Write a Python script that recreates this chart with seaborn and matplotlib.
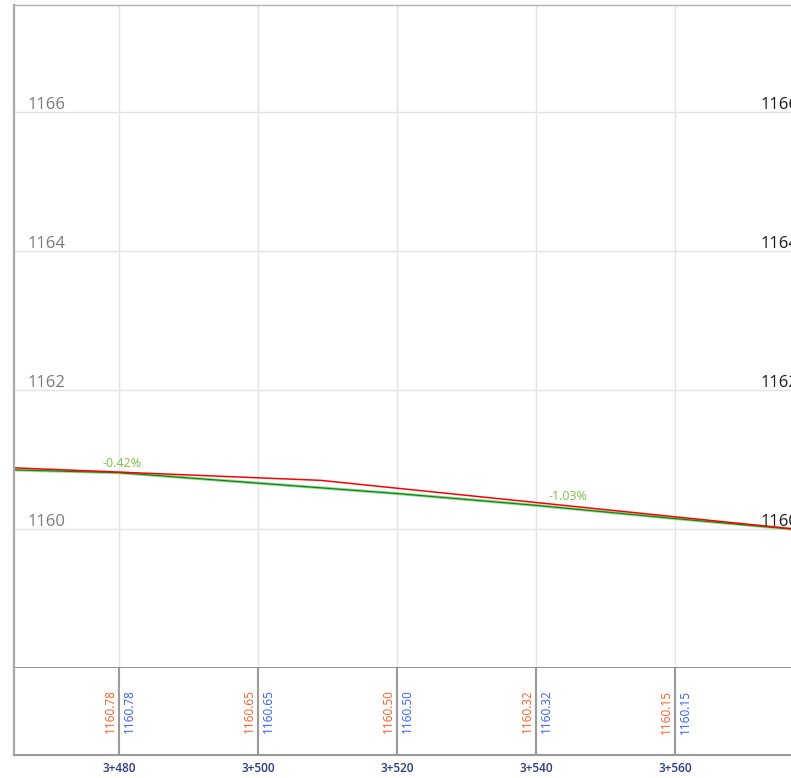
import numpy as np
import pandas as pd
import matplotlib
matplotlib.use("Agg")
import matplotlib.pyplot as plt
import seaborn as sns

# stations (m) and the elevations printed in the band
stations = [3480, 3500, 3520, 3540, 3560]
station_labels = ["3+480", "3+500", "3+520", "3+540", "3+560"]
red_band_values = [1160.78, 1160.65, 1160.50, 1160.32, 1160.15]
blue_band_values = [1160.78, 1160.65, 1160.50, 1160.32, 1160.15]

# grade line (red)
grade_st = [3464.9, 3509.0, 3580.0]
grade_el = [1160.88, 1160.70, 1159.97]

# ground line (green)
ground_st = [3464.9, 3480, 3500, 3520, 3540, 3560, 3580]
ground_el = [1160.85, 1160.81, 1160.66, 1160.51, 1160.34, 1160.15, 1159.97]

# grade labels
grade_text = ["-0.42%", "-1.03%"]
grade_text_st = [3480.5, 3544.6]

elev_ticks = [1160, 1162, 1164, 1166]

sns.set_style("white")
plt.rcParams['font.family'] = ['Open Sans', 'DejaVu Sans']

grade_df = pd.DataFrame({'station': grade_st, 'elev': grade_el})
ground_df = pd.DataFrame({'station': ground_st, 'elev': ground_el})

fig = plt.figure(figsize=(7.91, 7.78), dpi=100)
ax = fig.add_axes([14/791, 110/778, 1 - 14/791, 663/778])
band = fig.add_axes([14/791, 23/778, 1 - 14/791, 87/778])

x0 = 3480 - 105/6.95
x1 = 3480 + 672/6.95

# soft halo under the ground line, then the lines
sns.lineplot(data=ground_df, x='station', y='elev', ax=ax, color='#9fd89f', linewidth=2.2)
sns.lineplot(data=ground_df, x='station', y='elev', ax=ax, color='#0a8a0a', linewidth=0.9)
sns.lineplot(data=grade_df, x='station', y='elev', ax=ax, color='#ff0000', linewidth=1.1)

ax.set_xlim(x0, x1)
ax.set_ylim(1158.0, 1160 + 524/69.5)
ax.set_xticks(stations)
ax.set_yticks(elev_ticks)
ax.tick_params(length=0, labelbottom=False, labelleft=False)
ax.grid(True, color='#e4e4e4', linewidth=1.0)
ax.set_xlabel('')
ax.set_ylabel('')
ax.spines['right'].set_visible(False)
ax.spines['left'].set_color('#aaaaaa')
ax.spines['left'].set_linewidth(1.6)
ax.spines['top'].set_color('#b0b0b0')
ax.spines['top'].set_linewidth(1.0)
ax.spines['bottom'].set_color('#808080')
ax.spines['bottom'].set_linewidth(1.2)

# elevation labels inside the plot (left gray, right black, cut by the edge)
for v in elev_ticks:
    ax.annotate(str(v), xy=(0, v), xycoords=('axes fraction', 'data'),
                xytext=(10, 2.5), textcoords='offset points',
                ha='left', va='baseline', fontsize=12, color='#7a7a7a')
    ax.annotate(str(v), xy=(3572.3, v), xycoords='data',
                xytext=(0, 2.5), textcoords='offset points',
                ha='left', va='baseline', fontsize=12, color='#1a1a1a',
                annotation_clip=False)

# grade labels
for t, st in zip(grade_text, grade_text_st):
    yv = np.interp(st, grade_st, grade_el)
    ax.annotate(t, xy=(st, yv), xytext=(0, 6.5), textcoords='offset points',
                ha='center', va='center', fontsize=9, color='#7cc142')

# band with elevations
band.set_xlim(x0, x1)
band.set_ylim(0, 1)
band.set_yticks([])
band.set_xticks(stations)
band.set_xticklabels(station_labels, fontsize=8.5, color='#2b3a86', fontweight='semibold')
band.tick_params(axis='x', length=0, pad=5)
band.vlines(stations, 0, 1, color='#9a9a9a', linewidth=1.5)
band.spines['right'].set_visible(False)
band.spines['top'].set_visible(False)
band.spines['left'].set_color('#aaaaaa')
band.spines['left'].set_linewidth(1.6)
band.spines['bottom'].set_color('#9a9a9a')
band.spines['bottom'].set_linewidth(1.5)

for st, rv, bv in zip(stations, red_band_values, blue_band_values):
    band.annotate(f"{rv:.2f}", xy=(st, 0.5), xycoords=('data', 'axes fraction'),
                  xytext=(-6.5, 0), textcoords='offset points', rotation=90,
                  ha='center', va='center', fontsize=8.5, color='#ff5a24')
    band.annotate(f"{bv:.2f}", xy=(st, 0.5), xycoords=('data', 'axes fraction'),
                  xytext=(7.5, 0), textcoords='offset points', rotation=90,
                  ha='center', va='center', fontsize=8.5, color='#2f5cff')

fig.savefig('out.png', dpi=100)
